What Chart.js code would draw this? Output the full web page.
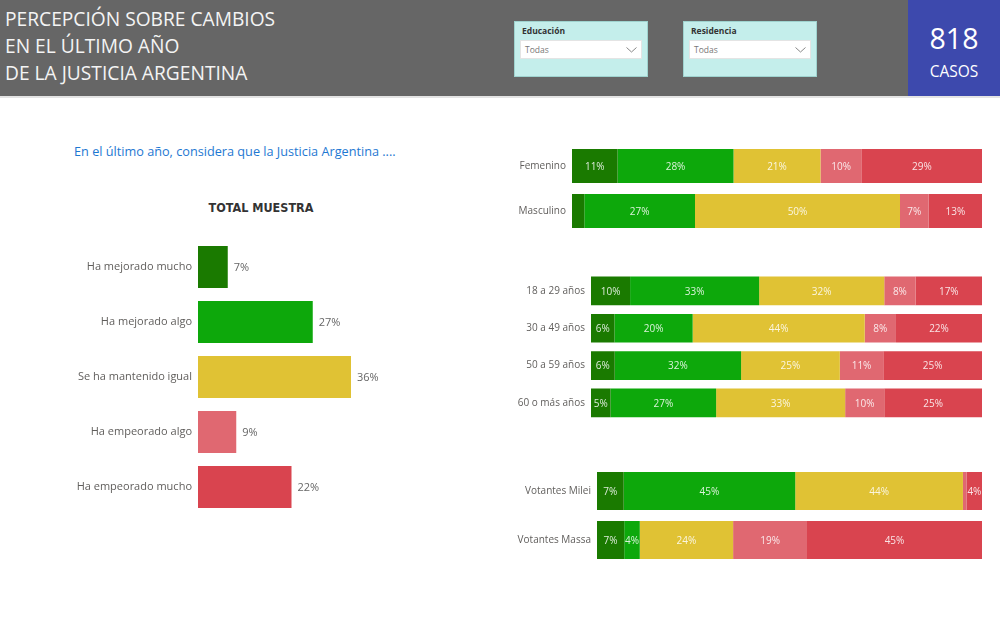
<!DOCTYPE html>
<html>
<head>
<meta charset="utf-8">
<script src="https://cdn.jsdelivr.net/npm/chart.js@4"></script>
<style>
  body { margin:0; width:1000px; height:628px; background:#fff; position:relative; overflow:hidden; font-family:"Open Sans", sans-serif; }
  #header { position:absolute; left:0; top:0; width:1000px; height:96px; background:#666666; border-bottom:2px solid #e4e4e4; }
  #titulo { position:absolute; left:5px; top:5px; color:#f4f4f4; font-size:19.2px; line-height:27px; }
  .slicer { position:absolute; top:21px; width:132px; height:54px; background:#c4eeeb; border:1px solid #9fd3cf; }
  .slicer .lbl { position:absolute; left:7px; top:3px; font-size:8.5px; font-weight:bold; color:#333; }
  .slicer .drop { position:absolute; left:5px; top:18px; width:120px; height:17px; background:#fff; border:1px solid #e4e4e4; font-size:8.5px; color:#777; line-height:17px; text-indent:4px; }
  .slicer .drop svg { position:absolute; right:4px; top:6px; }
  #casos { position:absolute; left:908px; top:0; width:92px; height:96px; background:#3d49ad; color:#fff; text-align:center; }
  #casos .n { position:absolute; left:0; width:92px; top:21px; font-size:28.5px; line-height:34px; }
  #casos .t { position:absolute; left:0; width:92px; top:61px; font-size:15.5px; line-height:20px; }
  #pregunta { position:absolute; left:74px; top:142px; font-size:12.7px; color:#1e78d2; }
  #totalTit { position:absolute; left:180px; top:200px; width:162px; text-align:center; font-family:"DejaVu Sans Condensed", sans-serif; font-weight:bold; font-size:12.5px; color:#333; }
  canvas { position:absolute; }
</style>
</head>
<body>
<div id="header">
  <div id="titulo">PERCEPCIÓN SOBRE CAMBIOS<br>EN EL ÚLTIMO AÑO<br>DE LA JUSTICIA ARGENTINA</div>
  <div class="slicer" style="left:514px"><div class="lbl">Educación</div><div class="drop">Todas<svg width="11" height="6"><polyline points="0.5,0.5 5.5,5 10.5,0.5" fill="none" stroke="#888" stroke-width="1"/></svg></div></div>
  <div class="slicer" style="left:683px"><div class="lbl">Residencia</div><div class="drop">Todas<svg width="11" height="6"><polyline points="0.5,0.5 5.5,5 10.5,0.5" fill="none" stroke="#888" stroke-width="1"/></svg></div></div>
  <div id="casos"><div class="n">818</div><div class="t">CASOS</div></div>
</div>
<div id="pregunta">En el último año, considera que la Justicia Argentina ....</div>
<div id="totalTit">TOTAL MUESTRA</div>

<canvas id="cTotal" style="left:40px;top:230px;width:380px;height:295px"></canvas>
<canvas id="cSexo" style="left:480px;top:140px;width:510px;height:100px"></canvas>
<canvas id="cEdad" style="left:480px;top:268px;width:510px;height:158px"></canvas>
<canvas id="cVoto" style="left:480px;top:462px;width:510px;height:108px"></canvas>

<script>
// respuestas y colores
var respuestas = ['Ha mejorado mucho', 'Ha mejorado algo', 'Se ha mantenido igual', 'Ha empeorado algo', 'Ha empeorado mucho'];
var colores = ['#1a7a00', '#0da80b', '#e0c234', '#e06871', '#d9444f'];

// total muestra
var total = [7, 27, 36, 9, 22];

// por sexo
var sexos = ['Femenino', 'Masculino'];
var sexoMucho = [11, 3];
var sexoAlgo = [28, 27];
var sexoIgual = [21, 50];
var sexoEmpAlgo = [10, 7];
var sexoEmpMucho = [29, 13];

// por edad
var edades = ['18 a 29 años', '30 a 49 años', '50 a 59 años', '60 o más años'];
var edadMucho = [10, 6, 6, 5];
var edadAlgo = [33, 20, 32, 27];
var edadIgual = [32, 44, 25, 33];
var edadEmpAlgo = [8, 8, 11, 10];
var edadEmpMucho = [17, 22, 25, 25];

// por voto
var votantes = ['Votantes Milei', 'Votantes Massa'];
var votoMucho = [7, 7];
var votoAlgo = [45, 4];
var votoIgual = [44, 24];
var votoEmpAlgo = [1, 19];
var votoEmpMucho = [4, 45];

Chart.defaults.font.family = '"Open Sans", sans-serif';
Chart.defaults.animation = false;

// etiquetas de valores dibujadas a mano (no hay plugin datalabels)
var etiquetas = {
  id: 'etiquetas',
  afterDatasetsDraw(chart, args, opts) {
    var ctx = chart.ctx;
    ctx.save();
    ctx.font = opts.size + 'px "Open Sans", sans-serif';
    ctx.textBaseline = 'middle';
    chart.data.datasets.forEach(function(ds, i) {
      var meta = chart.getDatasetMeta(i);
      meta.data.forEach(function(bar, j) {
        var v = ds.raw[j];
        if (opts.dentro) {
          if (v < 4) return;
          ctx.fillStyle = 'rgba(255,255,255,0.85)';
          ctx.textAlign = 'center';
          ctx.fillText(v + '%', (bar.x + bar.base) / 2, bar.y + 1);
        } else {
          ctx.fillStyle = '#666';
          ctx.textAlign = 'left';
          ctx.fillText(v + '%', bar.x + 6, bar.y + 1);
        }
      });
    });
    ctx.restore();
  }
};

function ejeY(ancho, size) {
  return {
    afterFit: function(s) { s.width = ancho; s.paddingTop = 0; s.paddingBottom = 0; },
    grid: { display: false, drawTicks: false },
    border: { display: false },
    ticks: { color: '#605e5c', padding: 6, font: { size: size } }
  };
}

new Chart(document.getElementById('cTotal'), {
  type: 'bar',
  data: {
    labels: respuestas,
    datasets: [{ data: total, raw: total, backgroundColor: colores, categoryPercentage: 1, barPercentage: 0.76 }]
  },
  options: {
    indexAxis: 'y',
    responsive: false,
    layout: { padding: { top: 9.5, bottom: 10.5, right: 9.5 } },
    scales: {
      x: { display: false, min: 0, max: 50 },
      y: ejeY(158, 11)
    },
    plugins: { legend: { display: false }, tooltip: { enabled: false }, etiquetas: { dentro: false, size: 11 } }
  },
  plugins: [etiquetas]
});

function apilado(id, cats, series, anchoEje, pad, pct) {
  var n = cats.length;
  var sumas = [];
  for (var j = 0; j < n; j++) {
    var s = 0;
    series.forEach(function(a) { s += a[j]; });
    sumas.push(s);
  }
  // 100% apilado, como en el original
  var datasets = series.map(function(a, i) {
    return {
      label: respuestas[i],
      raw: a,
      data: a.map(function(v, j) { return v / sumas[j] * 100; }),
      backgroundColor: colores[i],
      categoryPercentage: 1,
      barPercentage: pct
    };
  });
  new Chart(document.getElementById(id), {
    type: 'bar',
    data: { labels: cats, datasets: datasets },
    options: {
      indexAxis: 'y',
      responsive: false,
      layout: { padding: pad },
      scales: {
        x: { display: false, stacked: true, min: 0, max: 100 },
        y: Object.assign(ejeY(anchoEje, 10), { stacked: true })
      },
      plugins: { legend: { display: false }, tooltip: { enabled: false }, etiquetas: { dentro: true, size: 10 } }
    },
    plugins: [etiquetas]
  });
}

apilado('cSexo', sexos, [sexoMucho, sexoAlgo, sexoIgual, sexoEmpAlgo, sexoEmpMucho], 92, { top: 3.5, bottom: 6.5, right: 8 }, 0.76);
apilado('cEdad', edades, [edadMucho, edadAlgo, edadIgual, edadEmpAlgo, edadEmpMucho], 111, { top: 4.3, bottom: 4.5, right: 8 }, 0.77);
apilado('cVoto', votantes, [votoMucho, votoAlgo, votoIgual, votoEmpAlgo, votoEmpMucho], 117, { top: 4.5, bottom: 5.5, right: 8 }, 0.78);
</script>
</body>
</html>
